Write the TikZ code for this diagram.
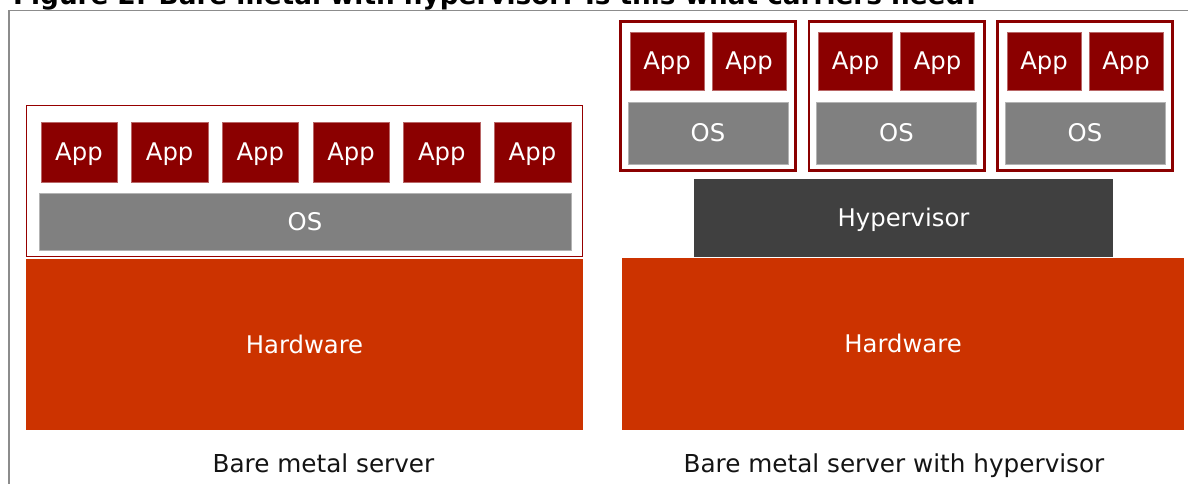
\documentclass[tikz,border=0pt]{standalone}
\usepackage{fontspec}
\setmainfont{DejaVu Sans}
\definecolor{appred}{RGB}{139,0,0}
\definecolor{osgray}{RGB}{128,128,128}
\definecolor{hvgray}{RGB}{64,64,64}
\definecolor{hwred}{RGB}{204,51,0}
\definecolor{framegray}{RGB}{140,140,140}
\definecolor{outlinered}{RGB}{150,0,0}
\definecolor{labelblack}{RGB}{20,20,20}
\tikzset{
  blk/.style={anchor=north west, inner sep=0pt, outer sep=0pt, text=white,
    font=\fontsize{24.3}{28}\selectfont, text height=17.7pt, text depth=0pt, align=center},
  appbox/.style={blk, fill=appred, draw=appred!60!white, line width=0.4pt},
  osbox/.style={blk, fill=osgray, draw=osgray!60!white, line width=0.4pt},
  hvbox/.style={blk, fill=hvgray},
  hwbox/.style={blk, fill=hwred},
  vmframe/.style={draw=appred, line width=2.7pt, fill=white},
  hostframe/.style={draw=outlinered, line width=1.3pt, fill=white},
  caption/.style={anchor=base, text=labelblack, font=\fontsize{24.7}{28}\selectfont, inner sep=0pt},
}
\begin{document}
\begin{tikzpicture}[x=1pt,y=-1pt]
\useasboundingbox (0,0) rectangle (1188,484);
% cropped title (only its lower edge shows in the reference)
\begin{scope}
  \clip (0,0) rectangle (1188,9.5);
  \node[anchor=base west, inner sep=0pt, font=\bfseries\fontsize{26.3}{30}\selectfont] (title) at (13,5) {Figure 2: Bare metal with hypervisor: Is this what carriers need?};
\end{scope}
% frame
\draw[framegray, line width=1.8pt] (9,484) -- (9,10.5) -- (1188,10.5);

% ---- left: bare metal server ----
\draw[hostframe] (26.6,105.2) rectangle (582.4,256.3);
\foreach \i in {0,...,5} {
  \node[appbox, minimum width=76.5pt, minimum height=60pt] (la\i) at ({40.7+90.7*\i},122) {App};
}
\node[osbox, minimum width=532pt, minimum height=57pt] (los) at (39,193) {OS};
\node[hwbox, minimum width=557pt, minimum height=171pt] (lhw) at (26,259) {Hardware};
\node[caption] (lcap) at (323.5,472) {Bare metal server};

% ---- right: bare metal server with hypervisor ----
\foreach \v/\x in {1/619, 2/807.5, 3/996} {
  \draw[vmframe] (\x+1.35,21.35) rectangle (\x+176.65,170.65);
  \node[appbox, minimum width=74pt, minimum height=58pt] (va\v a) at (\x+11,32) {App};
  \node[appbox, minimum width=74pt, minimum height=58pt] (va\v b) at (\x+93,32) {App};
  \node[osbox, minimum width=160pt, minimum height=62pt] (vos\v) at (\x+9,102) {OS};
}
\node[hvbox, minimum width=419pt, minimum height=78pt] (hv) at (694,179) {Hypervisor};
\node[hwbox, minimum width=562pt, minimum height=172pt] (rhw) at (622,258) {Hardware};
\node[caption] (rcap) at (894,472) {Bare metal server with hypervisor};
\end{tikzpicture}
\end{document}
